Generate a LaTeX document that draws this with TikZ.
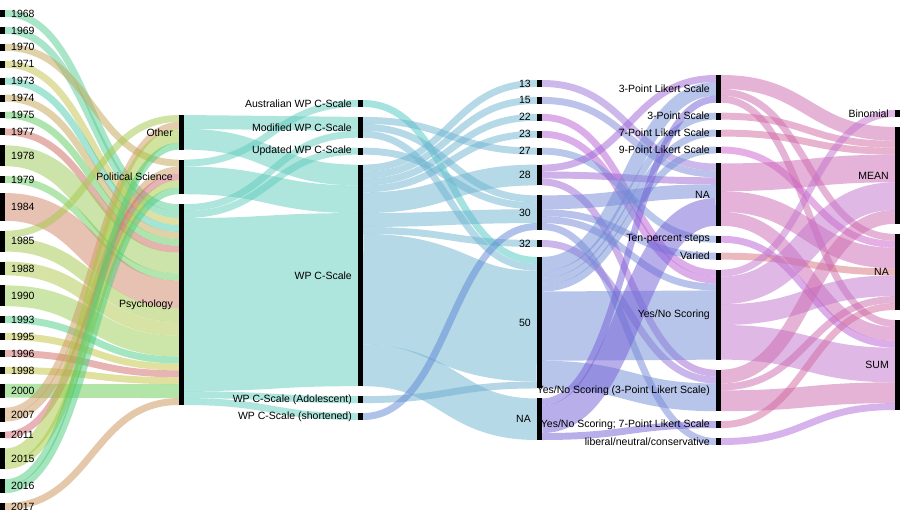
\documentclass[tikz,border=0pt]{standalone}
\usepackage{fontspec}
\setmainfont{Liberation Sans}
\usetikzlibrary{positioning, backgrounds}

% link colours (source node)
\definecolor{y1968}{RGB}{85,205,145}
\definecolor{y1969}{RGB}{85,205,150}
\definecolor{y1970}{RGB}{195,165,85}
\definecolor{y1971}{RGB}{195,195,75}
\definecolor{y1973}{RGB}{75,205,175}
\definecolor{y1974}{RGB}{195,165,85}
\definecolor{y1975}{RGB}{95,205,95}
\definecolor{y1977}{RGB}{205,105,95}
\definecolor{y1978}{RGB}{155,201,85}
\definecolor{y1979}{RGB}{105,205,95}
\definecolor{y1984}{RGB}{209,135,105}
\definecolor{y1985}{RGB}{165,201,75}
\definecolor{y1988}{RGB}{175,201,75}
\definecolor{y1990}{RGB}{155,205,85}
\definecolor{y1993}{RGB}{75,205,135}
\definecolor{y1995}{RGB}{195,195,65}
\definecolor{y1996}{RGB}{209,105,105}
\definecolor{y1998}{RGB}{195,195,65}
\definecolor{y2000}{RGB}{105,205,85}
\definecolor{y2007}{RGB}{205,155,95}
\definecolor{y2011}{RGB}{209,105,115}
\definecolor{y2015}{RGB}{165,201,65}
\definecolor{y2016}{RGB}{75,205,125}
\definecolor{y2017}{RGB}{205,145,85}
\definecolor{fOther}{RGB}{95,205,189}
\definecolor{fPolSci}{RGB}{95,205,189}
\definecolor{fPsych}{RGB}{95,205,189}
\definecolor{sAus}{RGB}{75,201,195}
\definecolor{sMod}{RGB}{109,181,209}
\definecolor{sUpd}{RGB}{109,181,209}
\definecolor{sWP}{RGB}{109,181,209}
\definecolor{sAdo}{RGB}{109,175,209}
\definecolor{sSho}{RGB}{95,135,215}
\definecolor{i13}{RGB}{155,115,215}
\definecolor{i15}{RGB}{125,135,215}
\definecolor{i22}{RGB}{185,95,215}
\definecolor{i23}{RGB}{185,95,215}
\definecolor{i27}{RGB}{115,145,215}
\definecolor{i28}{RGB}{160,100,215}
\definecolor{i30}{RGB}{115,135,215}
\definecolor{i32}{RGB}{150,110,215}
\definecolor{i50}{RGB}{115,140,215}
\definecolor{iNA}{RGB}{115,95,215}
\definecolor{p3L}{RGB}{205,105,175}
\definecolor{p3S}{RGB}{210,105,165}
\definecolor{p7L}{RGB}{210,105,160}
\definecolor{p9L}{RGB}{205,95,205}
\definecolor{pNA}{RGB}{205,105,180}
\definecolor{pTen}{RGB}{185,95,215}
\definecolor{pVar}{RGB}{215,115,125}
\definecolor{pYN}{RGB}{195,115,205}
\definecolor{pYN3}{RGB}{205,105,175}
\definecolor{pYN7}{RGB}{210,105,160}
\definecolor{pLib}{RGB}{175,105,215}

\tikzset{
  bar/.style={fill=black, inner sep=0pt, outer sep=0pt, minimum width=5pt,
    minimum height=#1*6.923pt, anchor=north west},
  bar/.default=1,
  lbl/.style={font=\fontsize{10.5}{12}\selectfont, inner sep=0pt},
  flow/.style={draw opacity=0.5},
}

\begin{document}
\begin{tikzpicture}[x=1pt, y=-1pt, label distance=6pt]
\useasboundingbox (0,0) rectangle (900,520);

% years
\node[bar, label={[lbl]right:1968}] (y1968) at (0,10) {};
\node[bar, below=10pt of y1968, label={[lbl]right:1969}] (y1969) {};
\node[bar, below=10pt of y1969, label={[lbl]right:1970}] (y1970) {};
\node[bar, below=10pt of y1970, label={[lbl]right:1971}] (y1971) {};
\node[bar, below=10pt of y1971, label={[lbl]right:1973}] (y1973) {};
\node[bar, below=10pt of y1973, label={[lbl]right:1974}] (y1974) {};
\node[bar, below=10pt of y1974, label={[lbl]right:1975}] (y1975) {};
\node[bar, below=10pt of y1975, label={[lbl]right:1977}] (y1977) {};
\node[bar=3, below=10pt of y1977, label={[lbl]right:1978}] (y1978) {};
\node[bar, below=10pt of y1978, label={[lbl]right:1979}] (y1979) {};
\node[bar=4, below=10pt of y1979, label={[lbl]right:1984}] (y1984) {};
\node[bar=3, below=10pt of y1984, label={[lbl]right:1985}] (y1985) {};
\node[bar=2, below=10pt of y1985, label={[lbl]right:1988}] (y1988) {};
\node[bar=3, below=10pt of y1988, label={[lbl]right:1990}] (y1990) {};
\node[bar, below=10pt of y1990, label={[lbl]right:1993}] (y1993) {};
\node[bar, below=10pt of y1993, label={[lbl]right:1995}] (y1995) {};
\node[bar, below=10pt of y1995, label={[lbl]right:1996}] (y1996) {};
\node[bar, below=10pt of y1996, label={[lbl]right:1998}] (y1998) {};
\node[bar=2, below=10pt of y1998, label={[lbl]right:2000}] (y2000) {};
\node[bar=2, below=10pt of y2000, label={[lbl]right:2007}] (y2007) {};
\node[bar, below=10pt of y2007, label={[lbl]right:2011}] (y2011) {};
\node[bar=3, below=10pt of y2011, label={[lbl]right:2015}] (y2015) {};
\node[bar=2, below=10pt of y2015, label={[lbl]right:2016}] (y2016) {};
\node[bar, below=10pt of y2016, label={[lbl]right:2017}] (y2017) {};

% field
\node[bar=5, label={[lbl]left:Other}] (fOther) at (179,115) {};
\node[bar=5, below=10pt of fOther, label={[lbl]left:Political Science}] (fPolSci) {};
\node[bar=29, below=10pt of fPolSci, label={[lbl]left:Psychology}] (fPsych) {};

% scale
\node[bar, label={[lbl]left:Australian WP C-Scale}] (sAus) at (358,100) {};
\node[bar=3, below=10pt of sAus, label={[lbl]left:Modified WP C-Scale}] (sMod) {};
\node[bar, below=10pt of sMod, label={[lbl]left:Updated WP C-Scale}] (sUpd) {};
\node[bar=32, below=10pt of sUpd, label={[lbl]left:WP C-Scale}] (sWP) {};
\node[bar, below=10pt of sWP, label={[lbl]left:WP C-Scale (Adolescent)}] (sAdo) {};
\node[bar, below=10pt of sAdo, label={[lbl]left:WP C-Scale (shortened)}] (sSho) {};

% items
\node[bar, label={[lbl]left:13}] (i13) at (537,80) {};
\node[bar, below=10pt of i13, label={[lbl]left:15}] (i15) {};
\node[bar, below=10pt of i15, label={[lbl]left:22}] (i22) {};
\node[bar, below=10pt of i22, label={[lbl]left:23}] (i23) {};
\node[bar, below=10pt of i23, label={[lbl]left:27}] (i27) {};
\node[bar=3, below=10pt of i27, label={[lbl]left:28}] (i28) {};
\node[bar=5, below=10pt of i28, label={[lbl]left:30}] (i30) {};
\node[bar, below=10pt of i30, label={[lbl]left:32}] (i32) {};
\node[bar=19, below=10pt of i32, label={[lbl]left:50}] (i50) {};
\node[bar=6, below=10pt of i50, label={[lbl]left:NA}] (iNA) {};

% scoring
\node[bar=4, label={[lbl]left:3-Point Likert Scale}] (p3L) at (716,75) {};
\node[bar, below=10pt of p3L, label={[lbl]left:3-Point Scale}] (p3S) {};
\node[bar, below=10pt of p3S, label={[lbl]left:7-Point Likert Scale}] (p7L) {};
\node[bar, below=10pt of p7L, label={[lbl]left:9-Point Likert Scale}] (p9L) {};
\node[bar=9, below=10pt of p9L, label={[lbl]left:NA}] (pNA) {};
\node[bar, below=10pt of pNA, label={[lbl]left:Ten-percent steps}] (pTen) {};
\node[bar, below=10pt of pTen, label={[lbl]left:Varied}] (pVar) {};
\node[bar=13, below=10pt of pVar, label={[lbl]left:Yes/No Scoring}] (pYN) {};
\node[bar=6, below=10pt of pYN, label={[lbl]left:Yes/No Scoring (3-Point Likert Scale)}] (pYN3) {};
\node[bar, below=10pt of pYN3, label={[lbl]left:Yes/No Scoring; 7-Point Likert Scale}] (pYN7) {};
\node[bar, below=10pt of pYN7, label={[lbl]left:liberal/neutral/conservative}] (pLib) {};

% aggregation
\node[bar, label={[lbl]left:Binomial}] (aBin) at (895,110) {};
\node[bar=14, below=10pt of aBin, label={[lbl]left:MEAN}] (aMean) {};
\node[bar=11, below=10pt of aMean, label={[lbl]left:NA}] (aNA) {};
\node[bar=13, below=10pt of aNA, label={[lbl]left:SUM}] (aSum) {};

\begin{pgfonlayer}{background}
\fill[white] (0,0) rectangle (900,520);
% source/offset/target/offset/value
\foreach \sa/\oa/\tb/\ob/\v in {
  y1968/0/fPsych/0/1, y1969/0/fPsych/1/1, y1970/0/fPolSci/0/1,
  y1971/0/fPsych/2/1, y1973/0/fPsych/3/1, y1974/0/fPsych/4/1,
  y1975/0/fPsych/5/1, y1977/0/fPsych/6/1, y1978/0/fPsych/7/3,
  y1979/0/fPsych/10/1, y1984/0/fPsych/11/4, y1985/0/fOther/0/1,
  y1985/1/fPsych/15/2, y1988/0/fPsych/17/2, y1990/0/fPsych/19/3,
  y1993/0/fPsych/22/1, y1995/0/fPsych/23/1, y1996/0/fPsych/24/1,
  y1998/0/fPsych/25/1, y2000/0/fPsych/26/2, y2007/0/fOther/1/1,
  y2007/1/fPolSci/1/1, y2011/0/fPolSci/2/1, y2015/0/fOther/2/2,
  y2015/2/fPolSci/3/1, y2016/0/fOther/4/1, y2016/1/fPolSci/4/1,
  y2017/0/fPsych/28/1,
  fOther/0/sMod/0/2, fOther/2/sWP/0/3, fPolSci/0/sAus/0/1,
  fPolSci/1/sWP/3/4, fPsych/0/sMod/2/1, fPsych/1/sUpd/0/1,
  fPsych/2/sWP/7/25, fPsych/27/sAdo/0/1, fPsych/28/sSho/0/1,
  sAus/0/i50/0/1, sMod/0/i27/0/1, sMod/1/i30/0/1, sMod/2/i50/1/1,
  sUpd/0/i30/1/1, sWP/0/i13/0/1, sWP/1/i15/0/1, sWP/2/i22/0/1,
  sWP/3/i23/0/1, sWP/4/i28/0/3, sWP/7/i30/2/2, sWP/9/i32/0/1,
  sWP/10/i50/2/16, sWP/26/iNA/0/6, sAdo/0/i50/18/1, sSho/0/i30/4/1,
  i13/0/pNA/0/1, i15/0/pNA/1/1, i22/0/pYN/0/1, i23/0/pYN/1/1,
  i27/0/pTen/0/1, i28/0/p3L/0/1, i28/1/pNA/2/1, i28/2/pYN3/0/1,
  i30/0/pNA/3/2, i30/2/pVar/0/1, i30/3/pYN/2/1, i30/4/pLib/0/1,
  i32/0/pYN3/1/1, i50/0/p3L/1/2, i50/2/p3S/0/1, i50/3/p7L/0/1,
  i50/4/p9L/0/1, i50/5/pYN/3/10, i50/15/pYN3/2/4, iNA/0/p3L/3/1,
  iNA/1/pNA/5/4, iNA/5/pYN7/0/1,
  p3L/0/aMean/0/2, p3L/2/aNA/0/1, p3L/3/aSum/0/1, p3S/0/aMean/2/1,
  p7L/0/aMean/3/1, p9L/0/aNA/1/1, pNA/0/aMean/4/4, pNA/4/aNA/2/3,
  pNA/7/aSum/1/2, pTen/0/aSum/3/1, pVar/0/aNA/5/1, pYN/0/aBin/0/1,
  pYN/1/aMean/8/4, pYN/5/aNA/6/3, pYN/8/aSum/4/5, pYN3/0/aMean/12/2,
  pYN3/2/aNA/9/1, pYN3/3/aSum/9/3, pYN7/0/aNA/10/1, pLib/0/aSum/12/1}{
  \pgfmathsetmacro\ya{-(\oa+\v/2)*6.923}
  \pgfmathsetmacro\yb{-(\ob+\v/2)*6.923}
  \pgfmathsetmacro\w{\v*6.923}
  \draw[flow, draw=\sa, line width=\w pt] ([yshift=\ya pt]\sa.north east)
    .. controls +(87,0) and +(-87,0) .. ([yshift=\yb pt]\tb.north west);
}
\end{pgfonlayer}
\end{tikzpicture}
\end{document}
